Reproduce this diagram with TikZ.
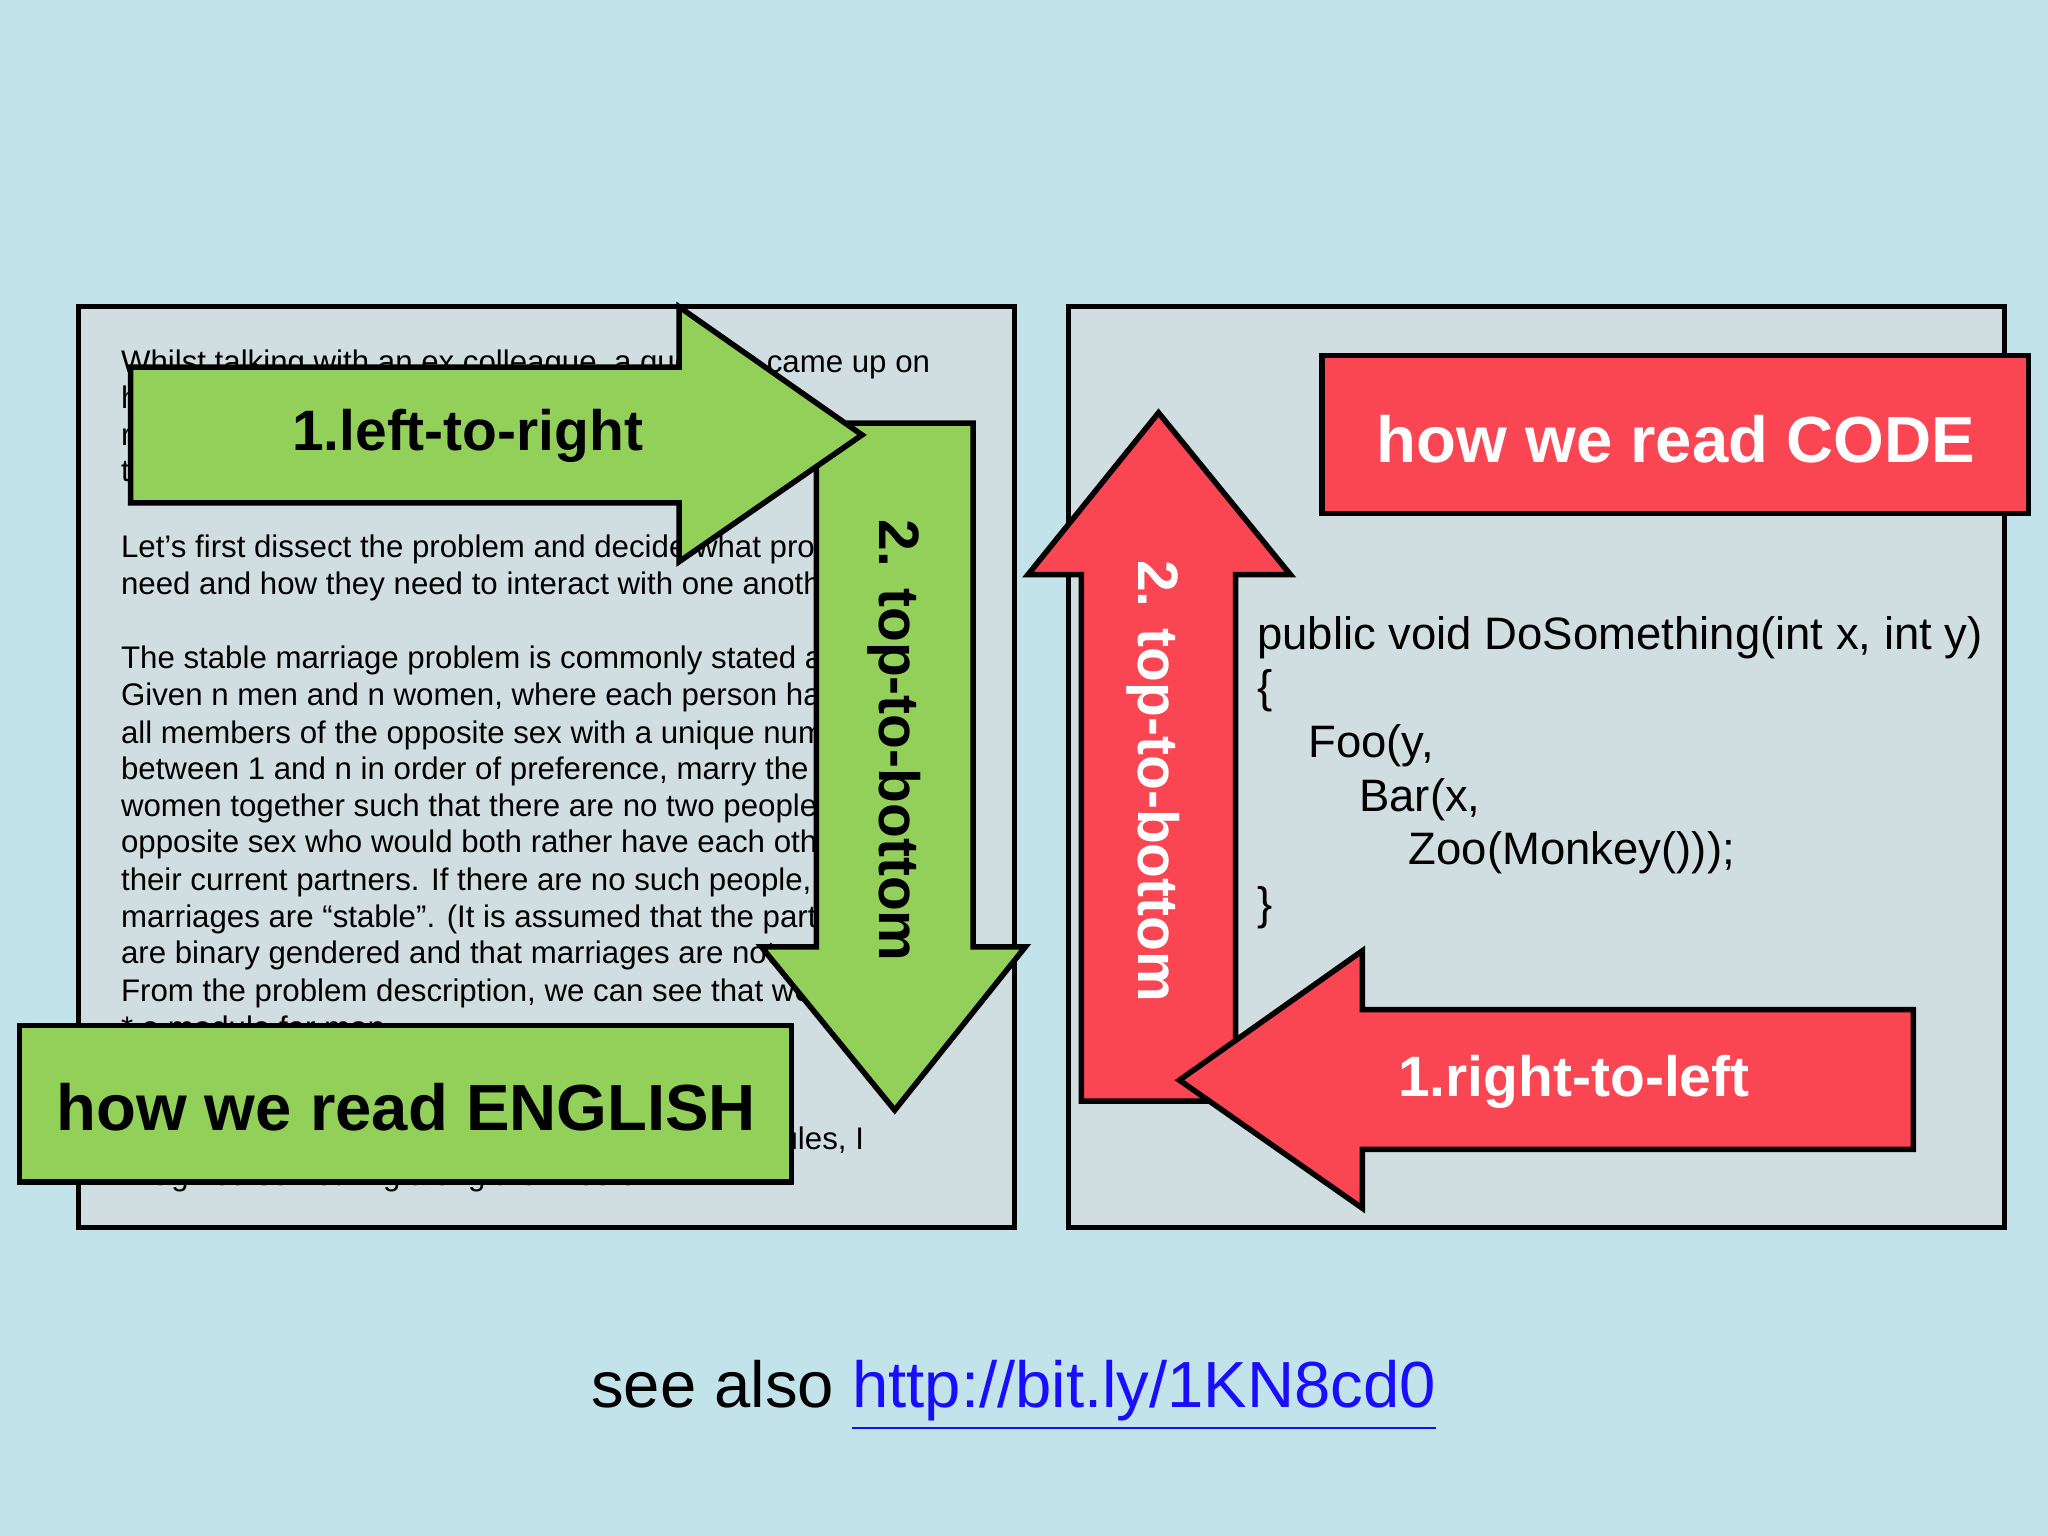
\documentclass[tikz,border=0pt]{standalone}
\usepackage{fontspec}
\setmainfont{Liberation Sans}
\definecolor{bg}{HTML}{C2E3E9}
\definecolor{panel}{HTML}{D0DEE2}
\definecolor{grn}{HTML}{92D05A}
\definecolor{rd}{HTML}{FA4552}
\definecolor{lnk}{HTML}{1A0DFF}
\begin{document}
\begin{tikzpicture}[x=0.01cm,y=-0.01cm,
  pnl/.style={draw=black,line width=1.1pt,fill=panel},
  arr/.style={draw=black,line width=1.2pt,line join=miter},
  bodytxt/.style={anchor=base west,inner sep=0pt,font=\fontsize{6.8}{8}\selectfont},
  codetxt/.style={anchor=base west,inner sep=0pt,font=\fontsize{9.9}{11}\selectfont},
  lbl/.style={font=\bfseries\fontsize{12.4}{14}\selectfont,inner sep=0pt}]
\fill[bg] (0,0) rectangle (1568,1176);
\useasboundingbox (0,0) rectangle (1568,1176);
% panels
\draw[pnl] (60,235) rectangle (777,940);
\draw[pnl] (818,235) rectangle (1535,940);
% english text
\begin{scope}
\clip (62,237) rectangle (740,938);
\foreach \y/\t in {285/{Whilst talking with an ex colleague, a question came up on},
 313/{how we could go about implementing a},
 341/{real world problem in},
 369/{the},
 427/{Let’s first dissect the problem and decide what properties we},
 455/{need and how they need to interact with one another.},
 512/{The stable marriage problem is commonly stated as:},
 540/{Given n men and n women, where each person has ranked},
 569/{all members of the opposite sex with a unique number},
 597/{between 1 and n in order of preference, marry the men and},
 625/{women together such that there are no two people of},
 653/{opposite sex who would both rather have each other than},
 682/{their current partners. If there are no such people, all the},
 710/{marriages are “stable”. (It is assumed that the participants},
 738/{are binary gendered and that marriages are not same-sex).},
 767/{From the problem description, we can see that we need:},
 795/{* a module for man},
 823/{* a module for woman},
 851/{* a module for matching},
 880/{Following on from the problem description and rules, I},
 908/{imagined something along the lines of...}}
  \node[bodytxt] at (92,\y) {\t};
\end{scope}
% green arrows
\draw[arr,fill=grn] (625,324) -- (745,324) -- (745,725) -- (785,725) -- (685,850) -- (583,725) -- (625,725) -- cycle;
\node[lbl,rotate=-90] (ttb1) at (685,567) {2. top-to-bottom};
\draw[arr,fill=grn] (100,281) -- (520,281) -- (520,235) -- (660,333) -- (520,430) -- (520,385) -- (100,385) -- cycle;
\node[lbl] (ltr) at (358,334) {1.left-to-right};
\draw[arr,fill=grn] (15,785) rectangle (606,905);
\node[font=\bfseries\fontsize{14.2}{17}\selectfont,inner sep=0pt] (engl) at (311,848) {how we read ENGLISH};
% code side
\draw[arr,fill=rd] (1012,272) rectangle (1553,393);
\node[font=\bfseries\fontsize{14.2}{17}\selectfont,text=white,inner sep=0pt] (code) at (1283,336) {how we read CODE};
\draw[arr,fill=rd] (828,843) -- (828,440) -- (787,440) -- (887,316) -- (988,440) -- (946,440) -- (946,843) -- cycle;
\node[lbl,text=white,rotate=-90] (ttb2) at (883,598) {2. top-to-bottom};
\draw[arr,fill=rd] (1465,773) -- (1043,773) -- (1043,728) -- (903,827) -- (1043,925) -- (1043,880) -- (1465,880) -- cycle;
\node[lbl,text=white] (rtl) at (1205,828) {1.right-to-left};
\node[codetxt] (c1) at (962,497) {public void DoSomething(int x, int y)};
\node[codetxt] (c2) at (962,538) {\{};
\node[codetxt] (c3) at (1001,580) {Foo(y,};
\node[codetxt] (c4) at (1040,621) {Bar(x,};
\node[codetxt] (c5) at (1078,662) {Zoo(Monkey()));};
\node[codetxt] (c6) at (962,704) {\}};
% footer
\node[font=\fontsize{14.2}{17}\selectfont,inner sep=0pt,anchor=base] (see) at (776,1078) {see also \textcolor{lnk}{\underline{http://bit.ly/1KN8cd0}}};
\end{tikzpicture}
\end{document}
